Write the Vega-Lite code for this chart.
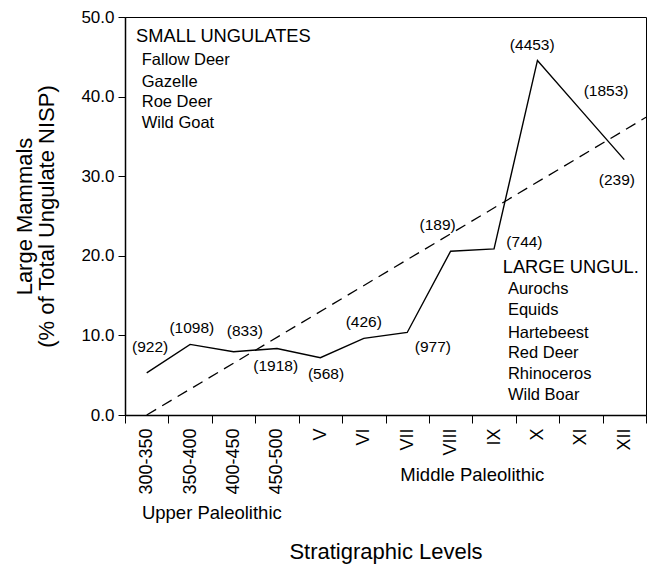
{
  "$schema": "https://vega.github.io/schema/vega-lite/v6.json",
  "width": 521,
  "height": 398,
  "autosize": {"type": "none"},
  "padding": {"left": 125, "top": 17, "right": 3, "bottom": 149},
  "config": {
    "font": "Liberation Sans",
    "view": {"stroke": "black", "strokeWidth": 1},
    "axis": {"domainColor": "black", "tickColor": "black", "labelColor": "black", "titleColor": "black", "grid": false, "titleFontWeight": "normal", "domainWidth": 1.5, "tickWidth": 1}
  },
  "datasets": {
    "levels": [
      {"level": "300-350", "pct": 5.3, "nisp": 922, "label": "(922)", "lx": 0.08, "ly": 8.57},
      {"level": "350-400", "pct": 8.87, "nisp": 1098, "label": "(1098)", "lx": 0.04, "ly": 10.95},
      {"level": "400-450", "pct": 7.95, "nisp": 833, "label": "(833)", "lx": 0.26, "ly": 10.54},
      {"level": "450-500", "pct": 8.36, "nisp": 1918, "label": "(1918)", "lx": -0.03, "ly": 6.19},
      {"level": "V", "pct": 7.2, "nisp": 568, "label": "(568)", "lx": 0.13, "ly": 5.14},
      {"level": "VI", "pct": 9.62, "nisp": 426, "label": "(426)", "lx": 0.0, "ly": 11.71},
      {"level": "VII", "pct": 10.37, "nisp": 977, "label": "(977)", "lx": 0.59, "ly": 8.57},
      {"level": "VIII", "pct": 20.58, "nisp": 189, "label": "(189)", "lx": -0.3, "ly": 23.84},
      {"level": "IX", "pct": 20.87, "nisp": 744, "label": "(744)", "lx": 0.7, "ly": 21.74},
      {"level": "X", "pct": 44.54, "nisp": 4453, "label": "(4453)", "lx": -0.12, "ly": 46.42},
      {"level": "XI", "pct": 38.3, "nisp": 1853, "label": "(1853)", "lx": 0.58, "ly": 40.69},
      {"level": "XII", "pct": 32.08, "nisp": 239, "label": "(239)", "lx": -0.17, "ly": 29.49}
    ],
    "trend": [
      {"x0": "300-350", "y0": 0, "x1": "XII", "y1": 37.4}
    ],
    "notes": [
      {"text": "SMALL UNGULATES", "level": "300-350", "off": -0.246, "ly": 47.45, "kind": "head"},
      {"text": "Fallow Deer", "level": "300-350", "off": -0.115, "ly": 44.54, "kind": "item"},
      {"text": "Gazelle", "level": "300-350", "off": -0.115, "ly": 41.82, "kind": "item"},
      {"text": "Roe Deer", "level": "300-350", "off": -0.115, "ly": 39.31, "kind": "item"},
      {"text": "Wild Goat", "level": "300-350", "off": -0.115, "ly": 36.64, "kind": "item"},
      {"text": "LARGE UNGUL.", "level": "IX", "off": 0.2, "ly": 18.44, "kind": "head"},
      {"text": "Aurochs", "level": "IX", "off": 0.32, "ly": 15.81, "kind": "item"},
      {"text": "Equids", "level": "IX", "off": 0.32, "ly": 13.17, "kind": "item"},
      {"text": "Hartebeest", "level": "IX", "off": 0.32, "ly": 10.29, "kind": "item"},
      {"text": "Red Deer", "level": "IX", "off": 0.32, "ly": 7.78, "kind": "item"},
      {"text": "Rhinoceros", "level": "IX", "off": 0.32, "ly": 5.14, "kind": "item"},
      {"text": "Wild Boar", "level": "IX", "off": 0.32, "ly": 2.51, "kind": "item"}
    ],
    "periods": [
      {"text": "Upper Paleolithic", "level": "400-450", "ly": -13.1},
      {"text": "Middle Paleolithic", "level": "IX", "ly": -8.3}
    ]
  },
  "layer": [
    {
      "data": {"name": "levels"},
      "mark": {"type": "line", "color": "black", "strokeWidth": 1.4},
      "encoding": {
        "x": {
          "field": "level", "type": "ordinal",
          "scale": {"domain": ["300-350", "350-400", "400-450", "450-500", "V", "VI", "VII", "VIII", "IX", "X", "XI", "XII"], "paddingInner": 0, "paddingOuter": 0},
          "axis": {"title": "Stratigraphic Levels", "labelAngle": -90, "labelFontSize": 18, "titleFontSize": 22, "tickSize": 8, "labelPadding": 5, "titlePadding": 47, "tickBand": "extent"}
        },
        "y": {
          "field": "pct", "type": "quantitative",
          "scale": {"domain": [0, 50], "nice": false},
          "axis": {"title": ["Large Mammals", "(% of Total Ungulate NISP)"], "values": [0, 10, 20, 30, 40, 50], "format": ".1f", "labelFontSize": 17, "titleFontSize": 22, "titleLineHeight": 22, "tickSize": 7, "labelPadding": 4, "titlePadding": 22}
        }
      }
    },
    {
      "data": {"name": "trend"},
      "mark": {"type": "rule", "color": "black", "strokeWidth": 1.3, "strokeDash": [11, 7]},
      "encoding": {
        "x": {"field": "x0", "type": "ordinal", "scale": {"domain": ["300-350", "350-400", "400-450", "450-500", "V", "VI", "VII", "VIII", "IX", "X", "XI", "XII"]}},
        "x2": {"field": "x1", "bandPosition": 1},
        "y": {"field": "y0", "type": "quantitative"},
        "y2": {"field": "y1"}
      }
    },
    {
      "data": {"name": "levels"},
      "mark": {"type": "text", "fontSize": 15.5, "baseline": "middle", "align": "center", "color": "black"},
      "encoding": {
        "x": {"field": "level", "type": "ordinal", "scale": {"domain": ["300-350", "350-400", "400-450", "450-500", "V", "VI", "VII", "VIII", "IX", "X", "XI", "XII"]}},
        "xOffset": {"field": "lx", "type": "quantitative", "scale": {"domain": [-0.5, 0.5], "range": [0, 43.42]}},
        "y": {"field": "ly", "type": "quantitative"},
        "text": {"field": "label"}
      }
    },
    {
      "data": {"name": "notes"},
      "mark": {"type": "text", "baseline": "middle", "align": "left", "color": "black"},
      "encoding": {
        "x": {"field": "level", "type": "ordinal", "scale": {"domain": ["300-350", "350-400", "400-450", "450-500", "V", "VI", "VII", "VIII", "IX", "X", "XI", "XII"]}},
        "xOffset": {"field": "off", "type": "quantitative", "scale": {"domain": [-0.5, 0.5], "range": [0, 43.42]}},
        "y": {"field": "ly", "type": "quantitative"},
        "size": {"field": "kind", "type": "nominal", "scale": {"domain": ["head", "item"], "range": [18.3, 16.5]}, "legend": null},
        "text": {"field": "text"}
      }
    },
    {
      "data": {"name": "periods"},
      "mark": {"type": "text", "baseline": "alphabetic", "align": "center", "fontSize": 18.5, "color": "black"},
      "encoding": {
        "x": {"field": "level", "type": "ordinal", "bandPosition": 0, "scale": {"domain": ["300-350", "350-400", "400-450", "450-500", "V", "VI", "VII", "VIII", "IX", "X", "XI", "XII"]}},
        "y": {"field": "ly", "type": "quantitative"},
        "text": {"field": "text"}
      }
    }
  ]
}
